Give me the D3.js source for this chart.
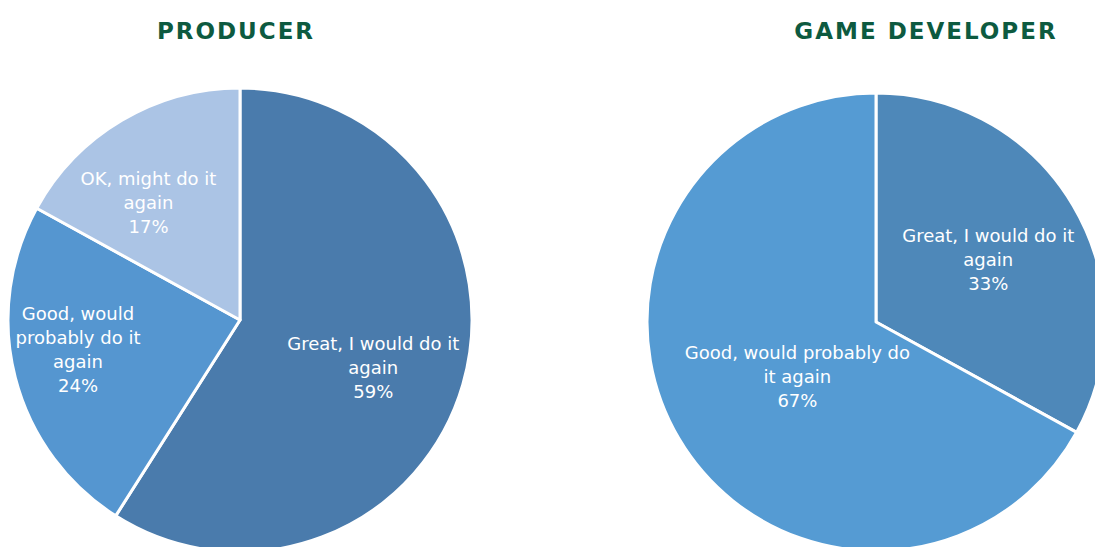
<!DOCTYPE html>
<html>
<head>
<meta charset="utf-8">
<script src="https://cdn.jsdelivr.net/npm/d3@7"></script>
<style>
  html, body { margin: 0; padding: 0; background: #ffffff; }
  svg { display: block; }
</style>
</head>
<body>
<svg id="chart" width="1095" height="547"></svg>
<script>
// Survey answers: "How was the experience?"
const producerCategories = ["Great, I would do it again", "Good, would probably do it again", "OK, might do it again"];
const producerValues = [59, 24, 17];
const producerLines = [["Great, I would do it", "again"], ["Good, would", "probably do it", "again"], ["OK, might do it", "again"]];

const developerCategories = ["Great, I would do it again", "Good, would probably do it again"];
const developerValues = [33, 67];
const developerLines = [["Great, I would do it", "again"], ["Good, would probably do", "it again"]];

const titles = ["PRODUCER", "GAME DEVELOPER"];

const svg = d3.select("#chart");
const fontLabel = "'DejaVu Sans', sans-serif";

function drawPie(cfg) {
  const g = svg.append("g").attr("transform", `translate(${cfg.cx},${cfg.cy})`);
  const pie = d3.pie().sort(null).value(d => d.value);
  const arcs = pie(cfg.categories.map((c, i) => ({ name: c, value: cfg.values[i], lines: cfg.lines[i] })));
  const arc = d3.arc().innerRadius(0).outerRadius(cfg.r);

  g.selectAll("path.slice")
    .data(arcs)
    .join("path")
    .attr("class", "slice")
    .attr("d", arc)
    .attr("fill", (d, i) => cfg.colors[i])
    .attr("stroke", "#ffffff")
    .attr("stroke-width", 3)
    .attr("stroke-linejoin", "round");

  const labels = g.selectAll("text.lbl")
    .data(arcs)
    .join("text")
    .attr("class", "lbl")
    .attr("text-anchor", "middle")
    .attr("fill", "#ffffff")
    .attr("font-family", fontLabel)
    .attr("font-size", 18)
    .attr("transform", (d, i) => {
      const lr = cfg.r * cfg.labelFrac[i];
      const a = (d.startAngle + d.endAngle) / 2 + cfg.labelShift[i];
      return `translate(${Math.sin(a) * lr},${-Math.cos(a) * lr})`;
    });

  labels.each(function (d) {
    const rows = d.data.lines.concat([d3.format(".0f")(d.data.value) + "%"]);
    const n = rows.length;
    d3.select(this).selectAll("tspan")
      .data(rows)
      .join("tspan")
      .attr("x", 0)
      .attr("y", (t, k) => (k - (n - 1) / 2) * 24 + 6)
      .text(t => t);
  });

  svg.append("text")
    .attr("x", cfg.titleX)
    .attr("y", 39)
    .attr("text-anchor", "middle")
    .attr("fill", "#0d5a40")
    .attr("font-family", "'DejaVu Sans', sans-serif")
    .attr("font-weight", "bold")
    .attr("font-size", 23)
    .attr("letter-spacing", 2)
    .text(cfg.title);
}

drawPie({
  cx: 240, cy: 320, r: 232,
  categories: producerCategories, values: producerValues, lines: producerLines,
  colors: ["#4a7bac", "#5596d0", "#abc4e5"],
  labelFrac: [0.61, 0.71, 0.64],
  labelShift: [0.06, 0.07, -0.13],
  title: titles[0], titleX: 236
});

drawPie({
  cx: 876, cy: 322, r: 229,
  categories: developerCategories, values: developerValues, lines: developerLines,
  colors: ["#4e88b9", "#559bd3"],
  labelFrac: [0.56, 0.42],
  labelShift: [0.03, -0.08],
  title: titles[1], titleX: 926
});
</script>
</body>
</html>
